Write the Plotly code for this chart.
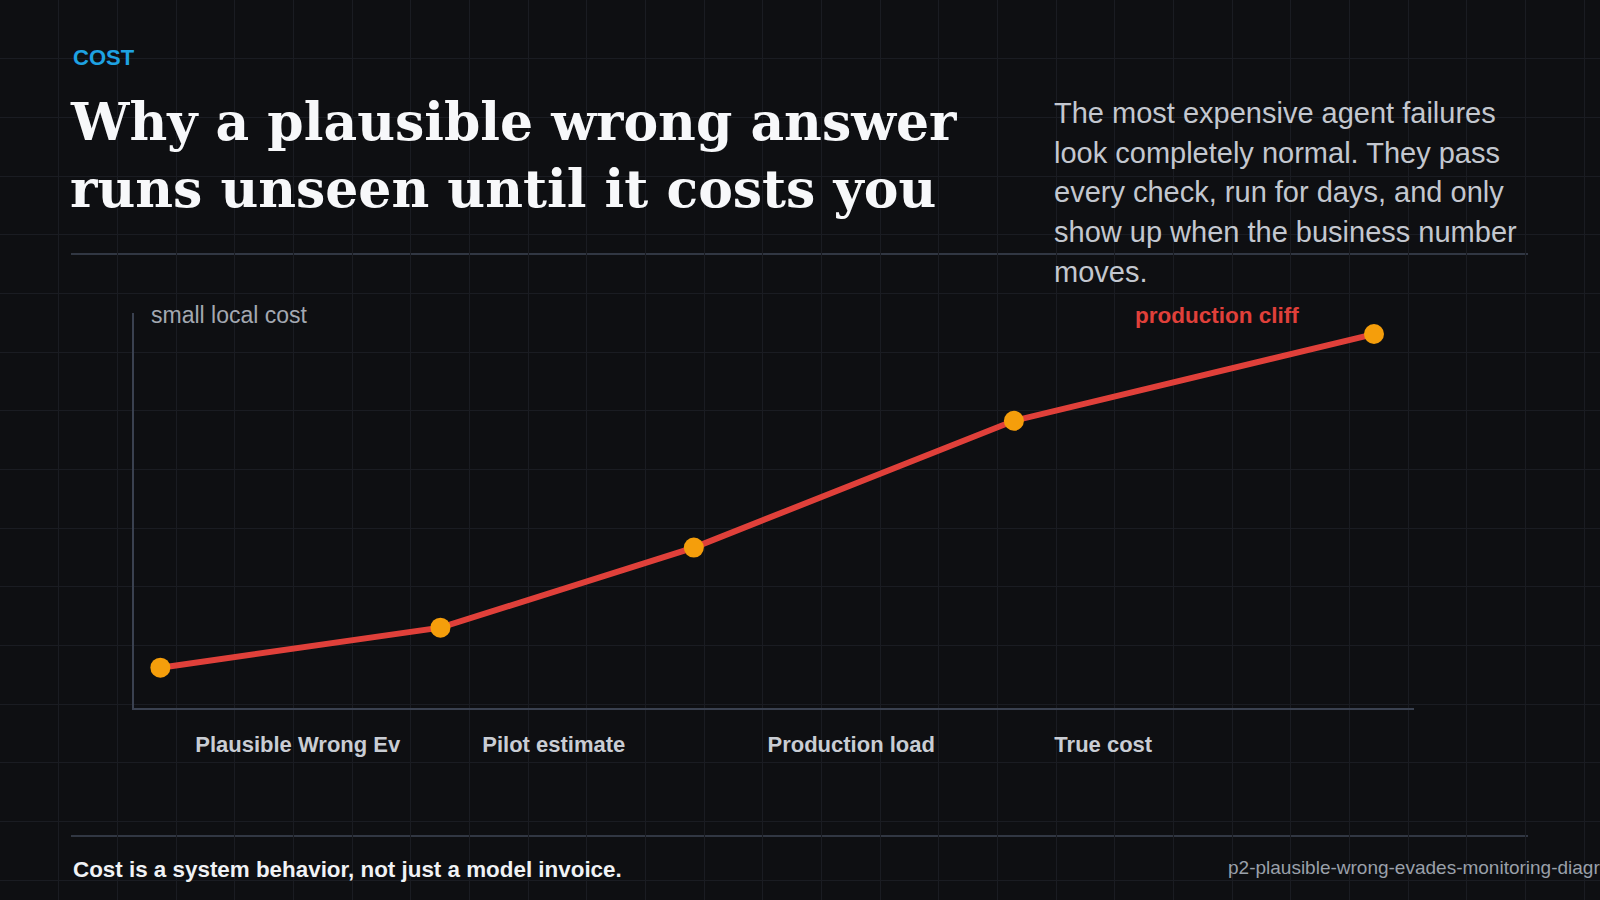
import plotly.graph_objects as go

# ---------------- data ----------------
stages = ["Plausible Wrong Ev", "Pilot estimate", "Production load", "True cost", "Production cliff"]
elapsed = [20, 230, 420, 660, 930]          # position along the run (x units)
cost = [30, 60, 120, 215, 280]              # cumulative cost (y units)
tick_labels = ["Plausible Wrong Ev", "Pilot estimate", "Production load", "True cost"]
tick_values = [123, 315, 538, 727]

W, H = 1600, 900
BG = "#0e0f12"
GRID = "#1a1c22"
RULE = "#313743"
AXIS = "#3a4150"
RED = "#e0403a"
ORANGE = "#f59e0b"


def px(x):
    return x / W


def py(y):
    return 1 - y / H


fig = go.Figure()

# background grid subplot (drawn first)
fig.add_trace(go.Scatter(x=[None], y=[None], xaxis="x", yaxis="y", showlegend=False, hoverinfo="skip"))

# cost curve
fig.add_trace(go.Scatter(
    x=elapsed, y=cost, text=stages, xaxis="x2", yaxis="y2",
    mode="lines+markers",
    line=dict(color=RED, width=6),
    marker=dict(color=ORANGE, size=20, line=dict(width=0)),
    cliponaxis=False, showlegend=False, hoverinfo="text+y",
))

annotations = [
    dict(text="<b>COST</b>", x=px(71), y=py(58), xanchor="left", yanchor="middle",
         font=dict(family="Liberation Sans, Arial", size=22, color="#1ea2e2")),
    dict(text="<b>Why a plausible wrong answer</b>", x=px(68), y=py(121), xanchor="left", yanchor="middle",
         font=dict(family="DejaVu Serif, serif", size=52, color="#f7f8fa")),
    dict(text="<b>runs unseen until it costs you</b>", x=px(68), y=py(189), xanchor="left", yanchor="middle",
         font=dict(family="DejaVu Serif, serif", size=52, color="#f7f8fa")),
    dict(text="small local cost", x=px(149), y=py(315), xanchor="left", yanchor="middle",
         font=dict(family="Liberation Sans, Arial", size=23, color="#a3a8b1")),
    dict(text="<b>production cliff</b>", x=px(1133), y=py(315), xanchor="left", yanchor="middle",
         font=dict(family="Liberation Sans, Arial", size=22.5, color=RED)),
    dict(text="<b>Cost is a system behavior, not just a model invoice.</b>", x=px(71), y=py(869),
         xanchor="left", yanchor="middle",
         font=dict(family="Liberation Sans, Arial", size=22.4, color="#f0f2f5")),
    dict(text="p2-plausible-wrong-evades-monitoring-diagram", x=px(1226), y=py(867),
         xanchor="left", yanchor="middle",
         font=dict(family="Liberation Sans, Arial", size=19, color="#9aa0aa")),
]

sub_lines = [
    "The most expensive agent failures",
    "look completely normal. They pass",
    "every check, run for days, and only",
    "show up when the business number",
    "moves.",
]
for i, line in enumerate(sub_lines):
    annotations.append(dict(
        text=line, x=px(1052), y=py(113 + i * 39.7), xanchor="left", yanchor="middle",
        font=dict(family="Liberation Sans, Arial", size=29, color="#c3c7cf")))

for a in annotations:
    a.update(xref="paper", yref="paper", showarrow=False)

shapes = [
    dict(type="line", xref="paper", yref="paper", x0=px(71), x1=px(1528), y0=py(254), y1=py(254),
         line=dict(color=RULE, width=2), layer="below"),
    dict(type="line", xref="paper", yref="paper", x0=px(71), x1=px(1528), y0=py(836), y1=py(836),
         line=dict(color=RULE, width=2), layer="below"),
]

fig.update_layout(
    width=W, height=H,
    margin=dict(l=0, r=0, t=0, b=0),
    paper_bgcolor=BG, plot_bgcolor="rgba(0,0,0,0)",
    showlegend=False,
    annotations=annotations,
    shapes=shapes,
    xaxis=dict(domain=[0, 1], range=[0, W], tick0=0, dtick=176 / 3, showgrid=True, gridcolor=GRID,
               gridwidth=1, showticklabels=False, zeroline=False, showline=False, fixedrange=True,
               anchor="y"),
    yaxis=dict(domain=[0, 1], range=[H, 0], tick0=0, dtick=176 / 3, showgrid=True, gridcolor=GRID,
               gridwidth=1, showticklabels=False, zeroline=False, showline=False, fixedrange=True,
               anchor="x"),
    xaxis2=dict(domain=[px(133.7), px(1414)], range=[0, 960], anchor="y2",
                showgrid=False, zeroline=False, showline=True, linecolor=AXIS, linewidth=2,
                tickmode="array", tickvals=tick_values, ticktext=[f"<b>{t}</b>" for t in tick_labels],
                tickfont=dict(family="Liberation Sans, Arial", size=22, color="#c9cdd4"),
                ticks="", ticklabelstandoff=16, fixedrange=True),
    yaxis2=dict(domain=[py(707.7), py(312.7)], range=[0, 296], anchor="x2",
                showgrid=False, zeroline=False, showline=True, linecolor=AXIS, linewidth=2,
                showticklabels=False, ticks="", fixedrange=True),
)

fig.write_html("out.html")
